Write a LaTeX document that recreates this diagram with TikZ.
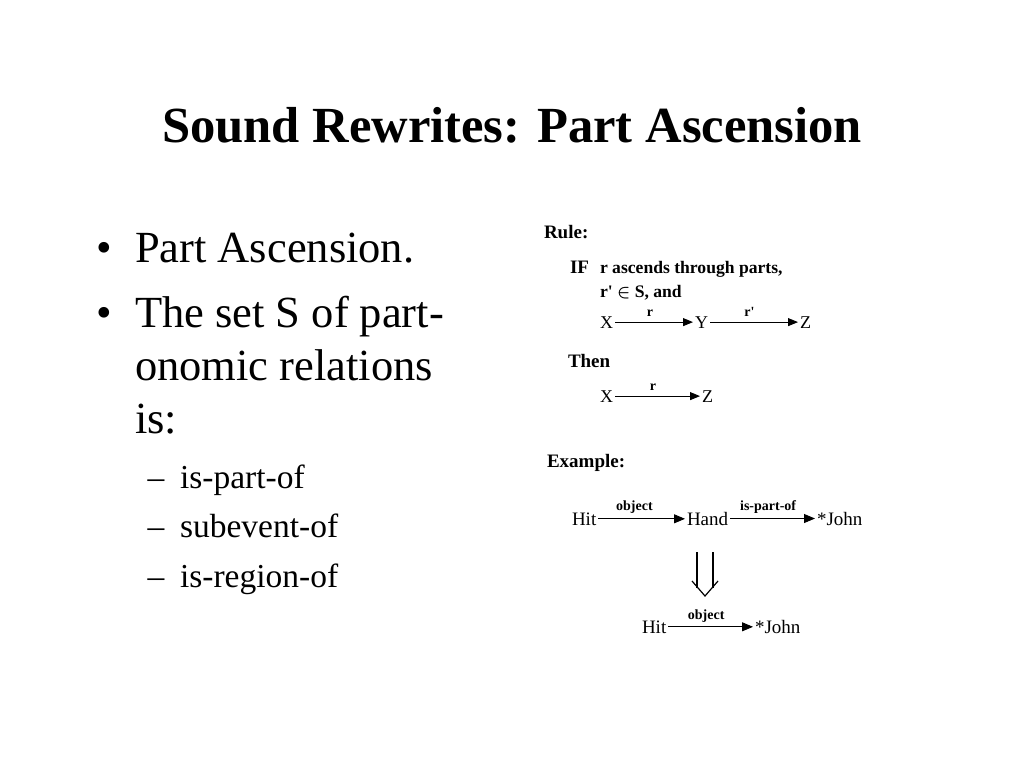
\documentclass[tikz,border=0pt]{standalone}
\usepackage{fontspec}
\setmainfont{Liberation Serif}
\usetikzlibrary{arrows.meta}
\begin{document}
\begin{tikzpicture}[x=1pt,y=-1pt,
  every node/.style={inner sep=0pt, outer sep=0pt},
  ttl/.style={anchor=base, font=\fontsize{50.6}{60}\selectfont\bfseries},
  main/.style={anchor=base west, font=\fontsize{44.5}{50}\selectfont},
  sub/.style={anchor=base west, font=\fontsize{33.5}{40}\selectfont},
  head/.style={anchor=base west, font=\fontsize{19}{23}\selectfont\bfseries},
  cond/.style={anchor=base west, font=\fontsize{17.6}{21}\selectfont\bfseries},
  var/.style={anchor=base west, font=\fontsize{18}{22}\selectfont},
  ex/.style={anchor=base west, font=\fontsize{19}{23}\selectfont},
  lbl/.style={anchor=base, font=\fontsize{14}{17}\selectfont\bfseries},
  rel/.style={draw=black, line width=0.9pt, shorten <=2pt, shorten >=2pt,
    -{Triangle[length=10pt,width=8pt]}},
  relx/.style={draw=black, line width=0.9pt, shorten <=2pt, shorten >=2pt,
    -{Triangle[length=11pt,width=9pt]}}
]
\fill[white] (0,0) rectangle (1024,768);
\useasboundingbox (0,0) rectangle (1024,768);

% title
\node[ttl] (title) at (512,142) {Sound Rewrites: Part Ascension};

% left bullets
\node[main, anchor=base] (b1) at (104,262) {•};
\node[main] (l1) at (135,262) {Part Ascension.};
\node[main, anchor=base] (b2) at (104,327) {•};
\node[main] (l2) at (135,327) {The set S of part-};
\node[main] (l3) at (135,380) {onomic relations};
\node[main] (l4) at (135,433) {is:};
\node[sub, anchor=base] (d1) at (156,488) {–};
\node[sub] (s1) at (180,488) {is-part-of};
\node[sub, anchor=base] (d2) at (156,537) {–};
\node[sub] (s2) at (180,537) {subevent-of};
\node[sub, anchor=base] (d3) at (156,587) {–};
\node[sub] (s3) at (180,587) {is-region-of};

% rule
\node[head] (rule) at (544,238) {Rule:};
\node[head] (if) at (570,273) {IF};
\node[cond] (c1) at (600,273) {r ascends through parts,};
\node[cond] (c2) at (600,297) {r\textquotesingle\ {\boldmath$\in$} S, and};
\node[var] (X) at (600,328) {X};
\node[var] (Y) at (695,328) {Y};
\node[var] (Z) at (800,328) {Z};
\draw[rel] (X.east) -- node[lbl, pos=0.45, yshift=6pt] {r} (X.east -| Y.west);
\draw[rel] (Y.east) -- node[lbl, pos=0.45, yshift=6pt] {r\textquotesingle} (Y.east -| Z.west);

\node[head] (then) at (568,367) {Then};
\node[var] (X2) at (600,402) {X};
\node[var] (Z2) at (702,402) {Z};
\draw[rel] (X2.east) -- node[lbl, pos=0.45, yshift=6pt] {r} (X2.east -| Z2.west);

% example
\node[head] (example) at (547,467) {Example:};
\node[ex] (hit) at (572,525) {Hit};
\node[ex] (hand) at (687,525) {Hand};
\node[ex] (john) at (817,525) {*John};
\draw[relx] (hit.east) -- node[lbl, pos=0.42, yshift=8pt] {object} (hit.east -| hand.west);
\draw[relx] (hand.east) -- node[lbl, pos=0.45, yshift=8pt] {is-part-of} (hand.east -| john.west);

% double arrow
\draw[line width=1.2pt] (697,552) -- (697,588);
\draw[line width=1.2pt] (713,552) -- (713,588);
\draw[line width=1.2pt, line join=miter] (692,581) -- (705,596) -- (718,581);

\node[ex] (hit2) at (642,633) {Hit};
\node[ex] (john2) at (755,633) {*John};
\draw[relx] (hit2.east) -- node[lbl, pos=0.45, yshift=7pt] {object} (hit2.east -| john2.west);
\end{tikzpicture}
\end{document}
